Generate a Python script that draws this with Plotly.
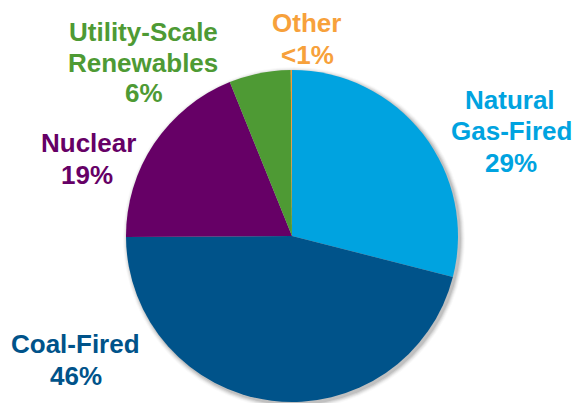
import plotly.graph_objects as go

# Generation mix by source (percent of total)
sources = ["Natural Gas-Fired", "Coal-Fired", "Nuclear", "Utility-Scale Renewables", "Other"]
shares = [29, 46, 19, 6, 0.12]
share_labels = ["29%", "46%", "19%", "6%", "<1%"]
colors = ["#00A3E0", "#00538A", "#660066", "#4E9A34", "#F39C3A"]

W, H = 573, 403
# Pie placement in pixels
cx, cy, r = 292, 236, 166

fig = go.Figure()
fig.add_trace(go.Pie(
    labels=sources,
    values=shares,
    sort=False,
    direction="clockwise",
    rotation=0,
    marker=dict(colors=colors, line=dict(width=0)),
    textinfo="none",
    hoverinfo="label+percent",
    showlegend=False,
    domain=dict(x=[(cx - r) / W, (cx + r) / W], y=[1 - (cy + r) / H, 1 - (cy - r) / H]),
))

# Soft drop shadow behind the pie
for grow, alpha in [(5, 0.025), (4, 0.035), (3, 0.05), (2, 0.07), (1, 0.09)]:
    ox, oy = 2, 2
    fig.add_shape(
        type="circle", xref="paper", yref="paper", layer="below",
        x0=(cx + ox - r - grow) / W, x1=(cx + ox + r + grow) / W,
        y0=1 - (cy + oy + r + grow) / H, y1=1 - (cy + oy - r - grow) / H,
        fillcolor=f"rgba(0,0,0,{alpha})", line=dict(width=0),
    )

# Label text lines: (text, x_px, y_px, colour index)
label_lines = [
    ("Natural", 510, 100, 0), ("Gas-Fired", 511, 131, 0), (share_labels[0], 511, 163, 0),
    ("Coal-Fired", 75, 344, 1), (share_labels[1], 76, 376, 1),
    ("Nuclear", 88, 143, 2), (share_labels[2], 87, 175, 2),
    ("Utility-Scale", 143, 32, 3), ("Renewables", 143, 63, 3), (share_labels[3], 144, 93, 3),
    ("Other", 306, 23, 4), (share_labels[4], 307, 55, 4),
]
text_colors = ["#00A3E0", "#00538A", "#660066", "#4E9A34", "#F7A13B"]

for txt, xp, yp, ci in label_lines:
    fig.add_annotation(
        text=f"<b>{txt}</b>", x=xp / W, y=1 - yp / H,
        xref="paper", yref="paper", xanchor="center", yanchor="middle",
        showarrow=False,
        font=dict(family="Liberation Sans, Arial, sans-serif", size=26, color=text_colors[ci]),
    )

fig.update_layout(
    width=W, height=H,
    margin=dict(l=0, r=0, t=0, b=0),
    paper_bgcolor="white", plot_bgcolor="white",
)

fig.write_html("out.html")
